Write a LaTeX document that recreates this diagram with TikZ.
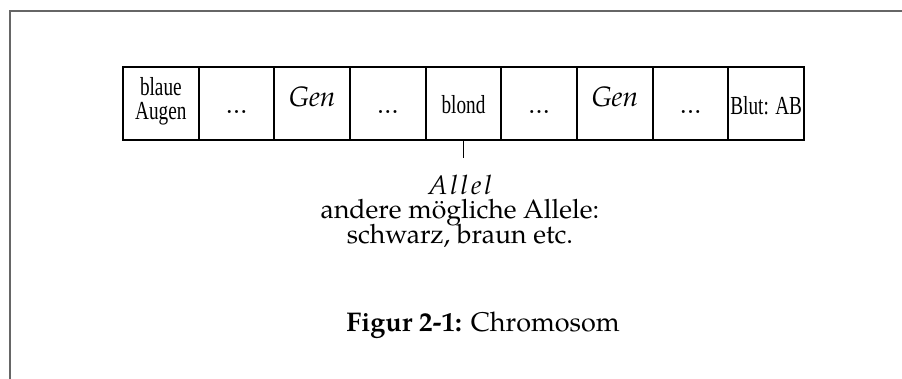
\documentclass[tikz,border=0pt]{standalone}
\usepackage{fontspec}
\setmainfont{TeX Gyre Pagella}
\newfontfamily\cellfont[FakeStretch=0.74]{Liberation Serif}
\begin{document}
\begin{tikzpicture}[x=1pt,y=-1pt,
  cellbox/.style={draw=black,line width=2pt,minimum width=75.67pt,minimum height=73pt,inner sep=0pt},
  celltext/.style={anchor=base,inner sep=0pt,font=\cellfont\fontsize{26}{20}\selectfont},
  gentext/.style={anchor=base,inner sep=0pt,font=\itshape\fontsize{28}{28}\selectfont},
  dotstext/.style={anchor=base,inner sep=0pt,font=\fontsize{25}{25}\selectfont},
  bodytext/.style={anchor=base,inner sep=0pt,font=\fontsize{26.6}{26}\selectfont},
  frameline/.style={draw=black!60,line width=1.3pt}]
\useasboundingbox (0,0) rectangle (902,379);
% open frame: top and left edges only
\coordinate (ftl) at (10,11);
\coordinate (ftr) at (902,11);
\coordinate (fbl) at (10,379);
\draw[frameline] (ftr) -- (ftl) -- (fbl);
% chromosome cells
\foreach \i in {1,...,9}{
  \node[cellbox] (c\i) at ({123+75.67*(\i-0.5)},103.5) {};
}
% cell labels
\node[celltext] (t1a) at (c1.center |- 0,96) {blaue};
\node[celltext] (t1b) at (c1.center |- 0,120) {Augen};
\node[dotstext] (t2) at (c2.center |- 0,114) {…};
\node[gentext] (t3) at (c3.center |- 0,107) {Gen};
\node[dotstext] (t4) at (c4.center |- 0,114) {…};
\node[celltext] (t5) at (c5.center |- 0,114) {blond};
\node[dotstext] (t6) at (c6.center |- 0,114) {…};
\node[gentext] (t7) at (c7.center |- 0,107) {Gen};
\node[dotstext] (t8) at (c8.center |- 0,114) {…};
\node[celltext] (t9) at (c9.center |- 0,115) {Blut: AB};
% pointer from the allele to its description
\coordinate (ptr) at (c5.south |- 0,158);
\draw[line width=0.8pt] (c5.south) -- (ptr);
\node[bodytext,font=\itshape\addfontfeatures{LetterSpace=11}\fontsize{26.6}{26}\selectfont] (allel) at (460,195) {Allel};
\node[bodytext] (other) at (460,219) {andere mögliche Allele:};
\node[bodytext] (ex) at (460,244) {schwarz, braun etc.};
% caption
\node[anchor=base,inner sep=0pt,font=\fontsize{27}{27}\selectfont] (cap) at (483,331) {\textbf{Figur 2-1:} Chromosom};
\end{tikzpicture}
\end{document}
